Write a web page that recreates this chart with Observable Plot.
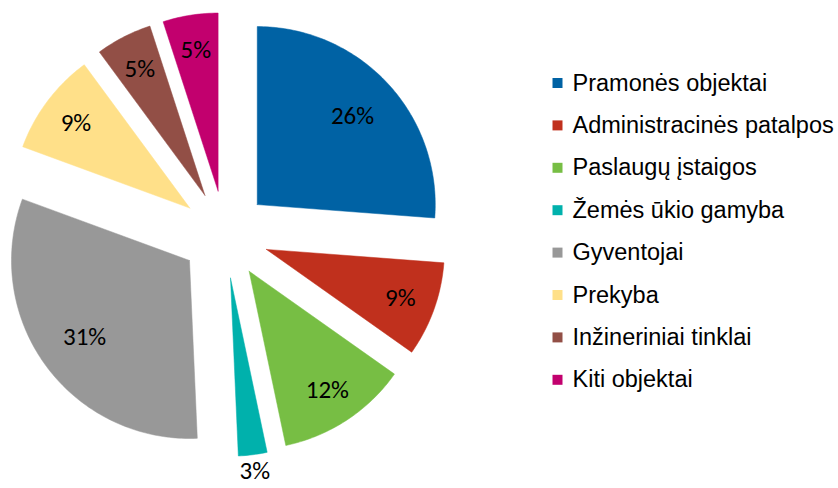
<!DOCTYPE html>
<html>
<head>
<meta charset="utf-8">
<script src="https://cdn.jsdelivr.net/npm/d3@7"></script>
<script src="https://cdn.jsdelivr.net/npm/@observablehq/plot@0.6"></script>
<style>
  html, body { margin: 0; padding: 0; background: #fff; }
  #chart svg { display: block; }
</style>
</head>
<body>
<div id="chart"></div>
<script>
// Data
const categories = [
  "Pramonės objektai",
  "Administracinės patalpos",
  "Paslaugų įstaigos",
  "Žemės ūkio gamyba",
  "Gyventojai",
  "Prekyba",
  "Inžineriniai tinklai",
  "Kiti objektai"
];
const shares = [26.2, 8.6, 11.9, 2.6, 31.3, 9.3, 5.1, 5.0];
const colors = ["#0062A4", "#C0301D", "#77BE44", "#00B1AC", "#989898", "#FFE089", "#924F46", "#C2006E"];

// Layout
const W = 838, H = 488;
const cx = 224.5, cy = 234, R = 178, explode = 44;

const total = d3.sum(shares);
let acc = 0;
const slices = shares.map((v, i) => {
  const a0 = acc / total * 2 * Math.PI;
  acc += v;
  const a1 = acc / total * 2 * Math.PI;
  const m = (a0 + a1) / 2;
  const ax = cx + explode * Math.sin(m), ay = cy - explode * Math.cos(m);
  const pts = [{x: ax, y: ay}];
  const n = Math.max(4, Math.ceil((a1 - a0) / (Math.PI / 180)));
  for (let k = 0; k <= n; k++) {
    const a = a0 + (a1 - a0) * k / n;
    pts.push({x: ax + R * Math.sin(a), y: ay - R * Math.cos(a)});
  }
  pts.push({x: ax, y: ay});
  const lr = v < 4 ? R + 16 : (v > 20 ? 0.73 * R : 0.8 * R);
  return {
    cat: categories[i], color: colors[i], pts,
    lx: ax + lr * Math.sin(m), ly: ay - lr * Math.cos(m),
    label: Math.round(v) + "%"
  };
});

const legend = categories.map((c, i) => ({cat: c, color: colors[i], i}));
const legX = 557, legY0 = 82.5, legStep = 42.4;

const chart = Plot.plot({
  width: W, height: H, margin: 0,
  x: {domain: [0, W], range: [0, W], axis: null},
  y: {domain: [0, H], range: [0, H], axis: null},
  marks: [
    ...slices.map(s => Plot.line(s.pts, {x: "x", y: "y", fill: s.color, stroke: s.color, strokeWidth: 0.5, curve: "linear"})),
    Plot.text(slices, {x: "lx", y: "ly", text: "label", fontSize: 25, fill: "#000", fontFamily: "Carlito, Calibri, Lato, sans-serif"}),
    Plot.dot(legend, {x: () => legX, y: d => legY0 + d.i * legStep, symbol: "square", r: 5.64, fill: d => d.color, stroke: null}),
    Plot.text(legend, {x: () => legX + 15, y: d => legY0 + d.i * legStep, text: "cat", textAnchor: "start", fontSize: 23.5, fill: "#000", fontFamily: "Liberation Sans, Arial, sans-serif"})
  ]
});
document.getElementById("chart").appendChild(chart);
</script>
</body>
</html>
